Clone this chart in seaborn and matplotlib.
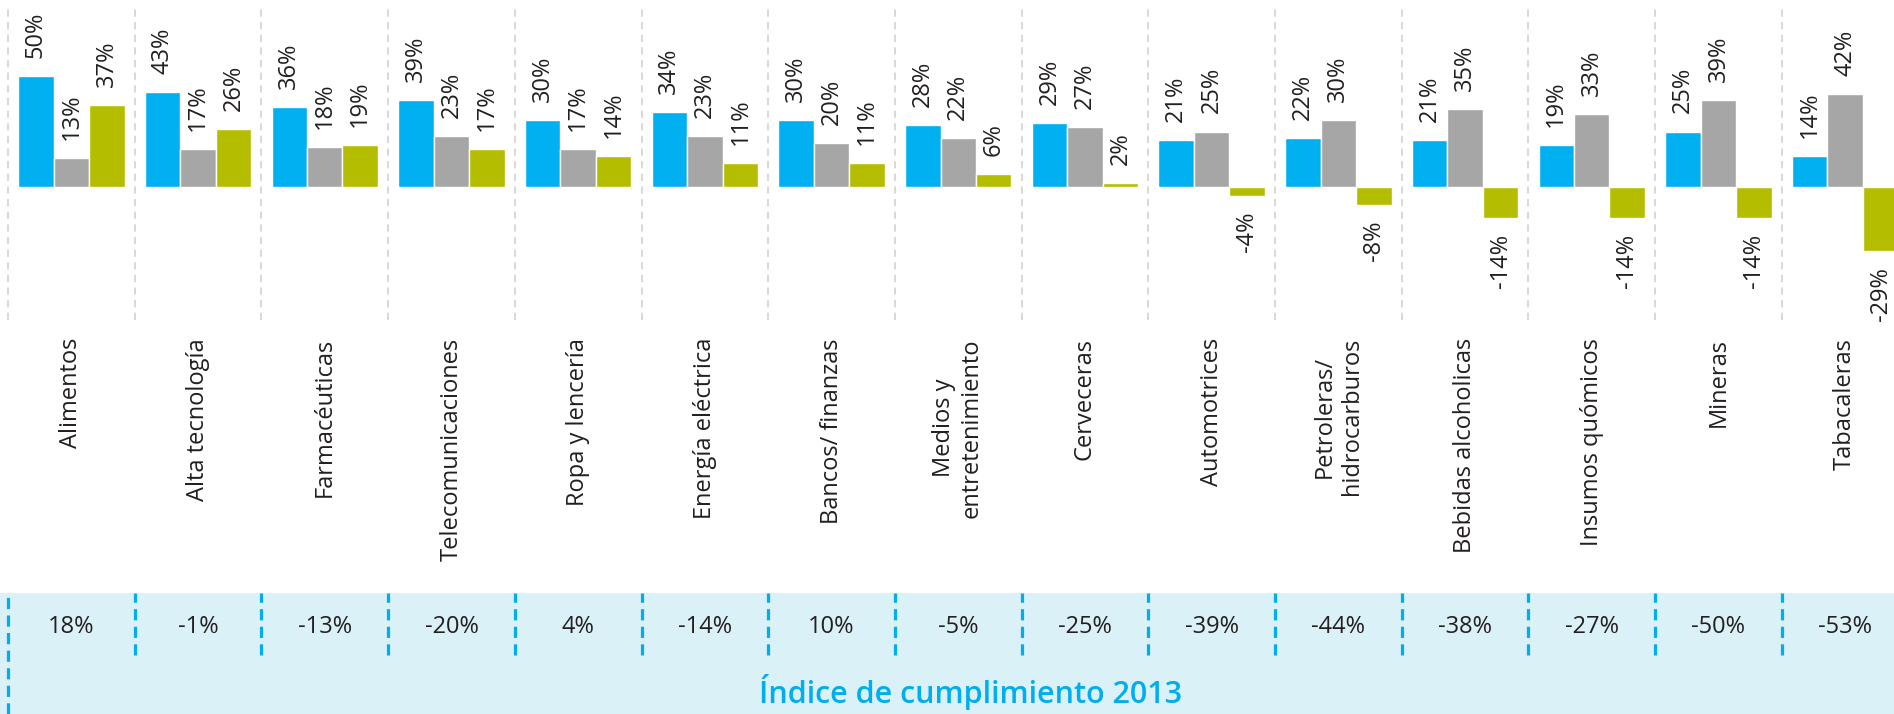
import pandas as pd
import numpy as np
import matplotlib.pyplot as plt
import seaborn as sns

sns.set_style("white")
plt.rcParams['font.family'] = ['Open Sans', 'DejaVu Sans']

sectores = ['Alimentos', 'Alta tecnología', 'Farmacéuticas', 'Telecomunicaciones',
            'Ropa y lencería', 'Energía eléctrica', 'Bancos/ finanzas',
            'Medios y\nentretenimiento', 'Cerveceras', 'Automotrices',
            'Petroleras/\nhidrocarburos', 'Bebidas alcoholicas', 'Insumos quómicos',
            'Mineras', 'Tabacaleras']
positivo = [50, 43, 36, 39, 30, 34, 30, 28, 29, 21, 22, 21, 19, 25, 14]
negativo = [13, 17, 18, 23, 17, 23, 20, 22, 27, 25, 30, 35, 33, 39, 42]
neto = [37, 26, 19, 17, 14, 11, 11, 6, 2, -4, -8, -14, -14, -14, -29]
indice_2013 = [18, -1, -13, -20, 4, -14, 10, -5, -25, -39, -44, -38, -27, -50, -53]
series = ['Positivo', 'Negativo', 'Neto']
colores = ['#00B0F0', '#A6A6A6', '#B5BD00']

df = pd.DataFrame({
    'sector': sectores * 3,
    'serie': np.repeat(series, len(sectores)),
    'valor': positivo + negativo + neto,
})

txt = '#231F20'
azul = '#00AEEF'
W, H = 1894, 714
xlim = (-0.5 - 8 / 126.7, -0.5 + (W - 8) / 126.7)

fig = plt.figure(figsize=(W / 100, H / 100), dpi=100)

# bars
ax = fig.add_axes([0, (H - 320) / H, 1, 311 / H])
sns.barplot(data=df, x='sector', y='valor', hue='serie', order=sectores,
            hue_order=series, palette=colores, width=0.84, saturation=1,
            legend=False, ax=ax)
ax.set_xlim(*xlim)
ax.set_ylim(-59.9, 80.2)
ax.set_xlabel('')
ax.set_ylabel('')
ax.set_yticks([])
sns.despine(ax=ax, left=True, bottom=True)
ax.tick_params(axis='x', rotation=90, pad=13, length=0, labelsize=17, labelcolor=txt)

for i in range(len(sectores)):
    ax.axvline(i - 0.5, color='#D6D6D6', linestyle=(0, (4, 3)), linewidth=1.3, zorder=0)

for cont, vals in zip(ax.containers, [positivo, negativo, neto]):
    for bar, v in zip(cont, vals):
        x = bar.get_x() + bar.get_width() / 2
        if v >= 0:
            ax.annotate(f'{v}%', (x, v), xytext=(0, 13), textcoords='offset points',
                        rotation=90, ha='center', va='bottom', fontsize=17, color=txt,
                        annotation_clip=False)
        else:
            ax.annotate(f'{v}%', (x, v), xytext=(0, -11.5), textcoords='offset points',
                        rotation=90, ha='center', va='top', fontsize=17, color=txt,
                        annotation_clip=False)

# bottom band with the 2013 index
band = fig.add_axes([0, 0, 1, (H - 593) / H])
band.set_facecolor('#DAF1F8')
band.set_xlim(*xlim)
band.set_ylim(0, 1)
band.set_xticks([])
band.set_yticks([])
for s in band.spines.values():
    s.set_visible(False)
for i, v in enumerate(indice_2013):
    band.text(i, 0.72, f'{v}%', ha='center', va='center', fontsize=17, color=txt)
    band.plot([i - 0.5, i - 0.5], [0 if i == 0 else 0.49, 1], color=azul,
              linestyle=(0, (3.5, 2)), linewidth=2.3)
band.text(7.1, 0.18, 'Índice de cumplimiento 2013', ha='center', va='center',
          fontsize=22, fontweight='semibold', color=azul)

plt.savefig('out.png', dpi=100)
